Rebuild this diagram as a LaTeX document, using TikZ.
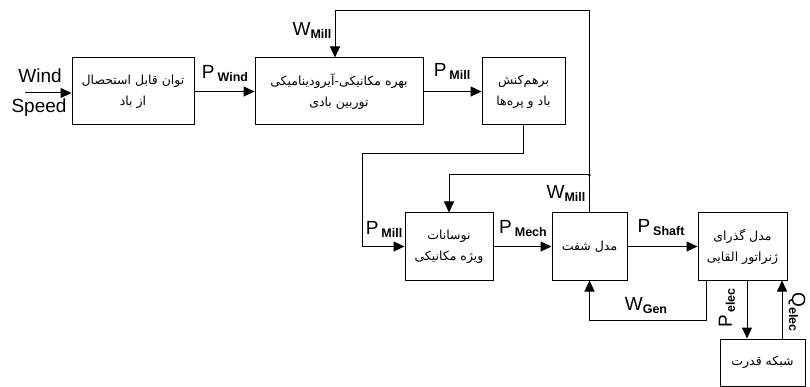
\documentclass[tikz,border=0pt]{standalone}
\usepackage{fontspec}
\setmainfont{Liberation Sans}
\newfontfamily\fa[Script=Arabic]{DejaVu Sans}
\TeXXeTstate=1
\usetikzlibrary{arrows.meta}
\newcommand{\sig}[3][0pt]{#2\kern#1\raisebox{-3pt}{\fontsize{12.5}{12.5}\selectfont\bfseries #3}}
\newcommand{\fat}[1]{{\fa\beginR #1\endR}}
\tikzset{blk/.style={draw,line width=1pt,align=center,font=\fontsize{12.5}{21}\selectfont},
	arr/.style={line width=1pt,-{Triangle[length=11pt,width=10pt]}},
	lbl/.style={font=\fontsize{19}{19}\selectfont,inner sep=0pt}}
\begin{document}
\begin{tikzpicture}[x=1pt,y=-1pt]
	\useasboundingbox (0,0) rectangle (810,387);
	% blocks
	\node[blk,minimum width=122pt,minimum height=67pt] (b1) at (133,91.5) {\fat{توان قابل استحصال}\\\fat{از باد}};
	\node[blk,minimum width=168pt,minimum height=67pt] (b2) at (339,91.5) {\fat{بهره مکانیکی-آیرودینامیکی}\\\fat{توربین بادی}};
	\node[blk,minimum width=83pt,minimum height=67pt] (b3) at (523.5,91.5) {\fat{برهم‌کنش}\\\fat{باد و پره‌ها}};
	\node[blk,minimum width=88pt,minimum height=67pt] (b4) at (449,246.5) {\fat{نوسانات}\\\fat{ویژه مکانیکی}};
	\node[blk,minimum width=75pt,minimum height=67pt] (b5) at (589.5,246.5) {\fat{مدل شفت}};
	\node[blk,minimum width=89pt,minimum height=67pt] (b6) at (742.5,246.5) {\fat{مدل گذرای}\\\fat{ژنراتور القایی}};
	\node[blk,minimum width=85pt,minimum height=47pt] (b7) at (762.5,362.5) {\fat{شبکه قدرت}};
	% helper points
	\coordinate (win) at (25,93);
	\coordinate (wtop) at (589.5,11);
	\coordinate (jn) at (589.5,175);
	\coordinate (pm) at (362,154);
	\coordinate (wg) at (706,320);
	\coordinate (pe) at (747,0);
	\coordinate (qe) at (782,0);
	% connectors
	\draw[arr] (win) -- (b1.west |- win);
	\draw[arr] (b1) -- (b2);
	\draw[arr] (b2) -- (b3);
	\draw[arr] (b5.north) -- (wtop) -| ([xshift=-4pt]b2.north);
	\draw[arr] (jn) -| (b4.north);
	\fill (jn) circle (1.3pt);
	\draw[arr] (b3.south) |- (pm) |- (b4.west);
	\draw[arr] (b4) -- (b5);
	\draw[arr] (b5) -- (b6);
	\draw[arr] (b6.south -| wg) |- (wg) -| (b5.south);
	\draw[arr] (b6.south -| pe) -- (b7.north -| pe);
	\draw[arr] (b7.north -| qe) -- (b6.south -| qe);
	% labels
	\node[lbl] (lw) at (40,76) {Wind};
	\node[lbl] (ls) at (39,108) {Speed};
	\node[lbl] (lpw) at (225,74) {\sig[3pt]{P}{Wind}};
	\node[lbl] (lwm) at (312,30) {\sig{W}{Mill}};
	\node[lbl] (lpm) at (452,71) {\sig[3pt]{P}{Mill}};
	\node[lbl] (lwm2) at (566,193) {\sig{W}{Mill}};
	\node[lbl] (lpm2) at (384,229) {\sig[3pt]{P}{Mill}};
	\node[lbl] (lpme) at (523,229) {\sig[3pt]{P}{Mech}};
	\node[lbl] (lps) at (661,228) {\sig[3pt]{P}{Shaft}};
	\node[lbl] (lwg) at (646,306) {\sig{W}{Gen}};
	\node[lbl,rotate=90] (lpe) at (727,308) {\sig[2pt]{P}{elec}};
	\node[lbl,rotate=-90] (lqe) at (797,312) {\sig{Q}{elec}};
\end{tikzpicture}
\end{document}
